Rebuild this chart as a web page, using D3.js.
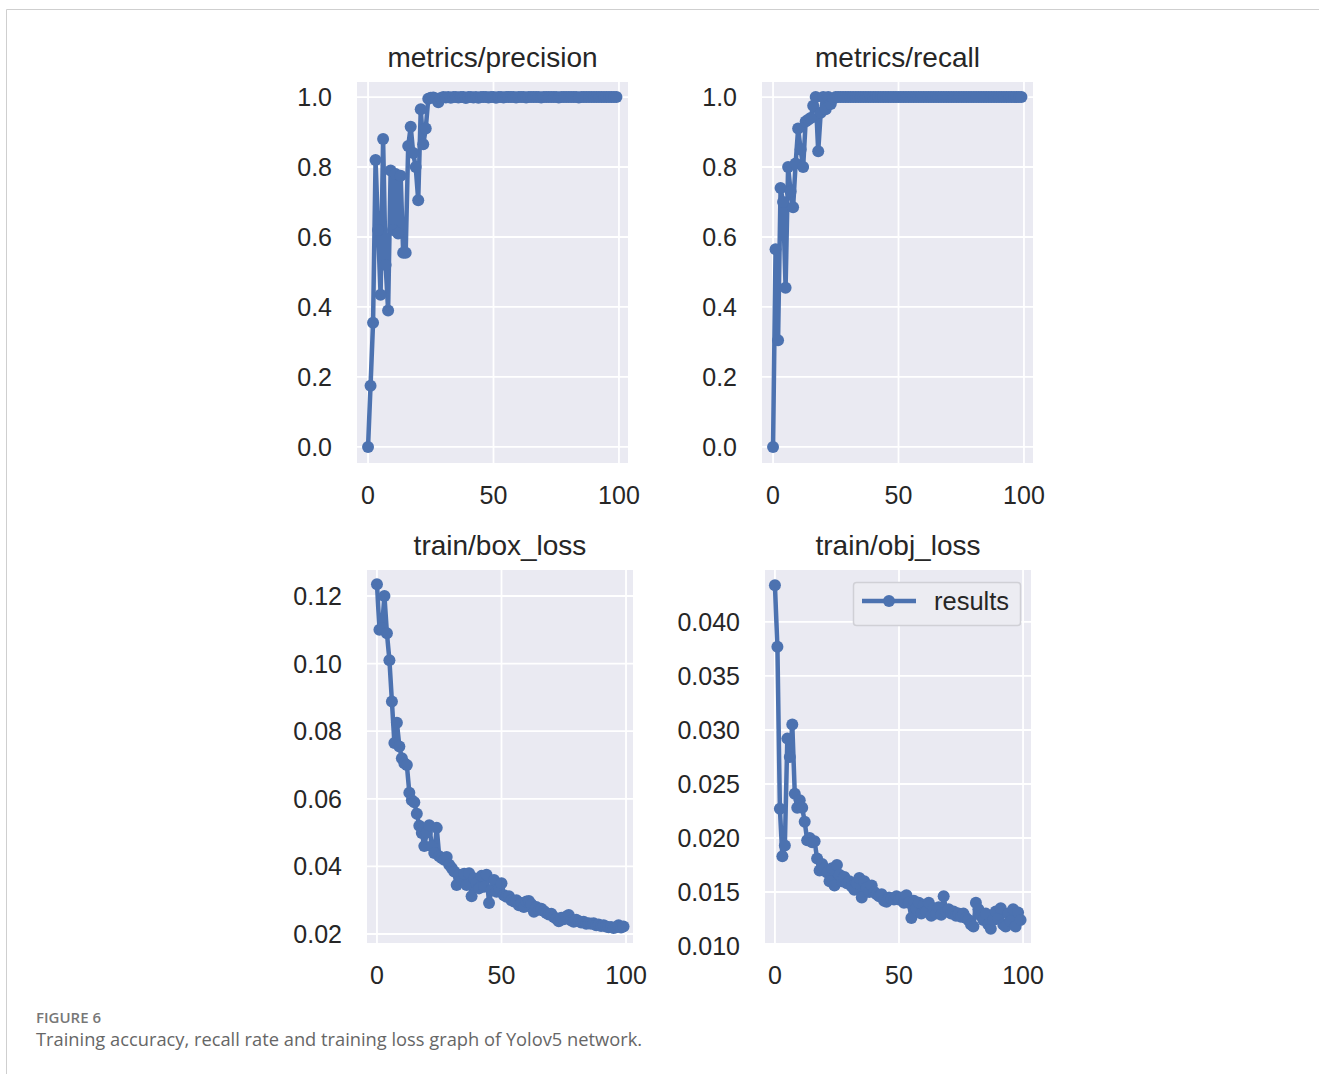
<!DOCTYPE html>
<html>
<head>
<meta charset="utf-8">
<script src="https://cdnjs.cloudflare.com/ajax/libs/d3/7.8.5/d3.min.js"></script>
<style>
  body { margin: 0; background: #fff; }
  svg { display: block; }
</style>
</head>
<body>
<script>
// Data, one value per epoch (0..99).
var precision = [0.0, 0.175, 0.355, 0.82, 0.62, 0.435, 0.88, 0.52, 0.39, 0.79,
  0.62, 0.78, 0.61, 0.775, 0.555, 0.555, 0.86, 0.915, 0.84, 0.80,
  0.705, 0.965, 0.865, 0.91, 0.995, 0.998, 0.999, 0.996, 0.985, 0.997,
  1.0, 0.999, 1.0, 0.998, 1.0, 1.0, 0.999, 1.0, 1.0, 0.997,
  1.0, 1.0, 0.999, 1.0, 0.998, 1.0, 1.0, 1.0, 0.999, 1.0,
  1.0, 0.998, 1.0, 1.0, 0.999, 1.0, 1.0, 1.0, 1.0, 0.999,
  1.0, 1.0, 1.0, 0.999, 1.0, 1.0, 1.0, 1.0, 1.0, 0.999,
  1.0, 1.0, 1.0, 1.0, 1.0, 1.0, 0.999, 1.0, 1.0, 1.0,
  1.0, 1.0, 1.0, 1.0, 0.999, 1.0, 1.0, 1.0, 1.0, 1.0,
  1.0, 1.0, 1.0, 1.0, 1.0, 1.0, 1.0, 1.0, 1.0, 1.0];

var recall = [0.0, 0.565, 0.305, 0.74, 0.70, 0.455, 0.80, 0.73, 0.685, 0.81,
  0.91, 0.85, 0.80, 0.93, 0.935, 0.94, 0.975, 1.0, 0.845, 0.955,
  1.0, 0.965, 1.0, 0.98, 0.995, 1.0, 1.0, 1.0, 1.0, 1.0,
  1.0, 1.0, 1.0, 1.0, 1.0, 1.0, 1.0, 1.0, 1.0, 1.0,
  1.0, 1.0, 1.0, 1.0, 1.0, 1.0, 1.0, 1.0, 1.0, 1.0,
  1.0, 1.0, 1.0, 1.0, 1.0, 1.0, 1.0, 1.0, 1.0, 1.0,
  1.0, 1.0, 1.0, 1.0, 1.0, 1.0, 1.0, 1.0, 1.0, 1.0,
  1.0, 1.0, 1.0, 1.0, 1.0, 1.0, 1.0, 1.0, 1.0, 1.0,
  1.0, 1.0, 1.0, 1.0, 1.0, 1.0, 1.0, 1.0, 1.0, 1.0,
  1.0, 1.0, 1.0, 1.0, 1.0, 1.0, 1.0, 1.0, 1.0, 1.0];

var boxLoss = [0.1235, 0.110, 0.1105, 0.120, 0.109, 0.101, 0.0888, 0.0765, 0.0825, 0.0755,
  0.0720, 0.0705, 0.0700, 0.0618, 0.0596, 0.0590, 0.0556, 0.0520, 0.0499, 0.0460,
  0.0500, 0.0522, 0.0460, 0.0440, 0.0514, 0.0430, 0.0425, 0.0420, 0.0428, 0.0405,
  0.0395, 0.0385, 0.0345, 0.0375, 0.0360, 0.0378, 0.0345, 0.0380, 0.0312, 0.0365,
  0.0350, 0.0335, 0.0372, 0.0340, 0.0375, 0.0292, 0.0330, 0.0360, 0.0325, 0.0335,
  0.0350, 0.0315, 0.0310, 0.0312, 0.0300, 0.0296, 0.0300, 0.0285, 0.0292, 0.0280,
  0.0296, 0.0298, 0.0288, 0.0266, 0.0280, 0.0272, 0.0275, 0.0268, 0.0262, 0.0258,
  0.0260, 0.0250, 0.0245, 0.0238, 0.0248, 0.0244, 0.0252, 0.0256, 0.0240, 0.0236,
  0.0242, 0.0238, 0.0234, 0.0236, 0.0230, 0.0232, 0.0230, 0.0232, 0.0226, 0.0228,
  0.0224, 0.0226, 0.0222, 0.0220, 0.0221, 0.0218, 0.0220, 0.0226, 0.0219, 0.0222];

var objLoss = [0.0434, 0.0377, 0.0227, 0.0183, 0.0193, 0.0292, 0.0275, 0.0305, 0.0241, 0.0228,
  0.0235, 0.0228, 0.0215, 0.0198, 0.0200, 0.0196, 0.0197, 0.0181, 0.0170, 0.0176,
  0.0172, 0.0168, 0.0160, 0.0172, 0.0156, 0.0175, 0.0166, 0.0160, 0.0164, 0.0158,
  0.0160, 0.0155, 0.0152, 0.0158, 0.0163, 0.0145, 0.0160, 0.0154, 0.0150, 0.0156,
  0.0150, 0.0148, 0.0146, 0.0148, 0.0142, 0.0141, 0.0145, 0.0144, 0.0143, 0.0146,
  0.0143, 0.0145, 0.0140, 0.0147, 0.0140, 0.0126, 0.0142, 0.0135, 0.0140, 0.0130,
  0.0138, 0.0132, 0.0140, 0.0128, 0.0135, 0.0130, 0.0136, 0.0129, 0.0146, 0.0132,
  0.0134, 0.0130, 0.0132, 0.0128, 0.0130, 0.0127, 0.0130, 0.0126, 0.0124, 0.0120,
  0.0118, 0.0140, 0.0134, 0.0128, 0.0124, 0.0130, 0.0120, 0.0116, 0.0124, 0.0132,
  0.0126, 0.0135, 0.0120, 0.0118, 0.0130, 0.0123, 0.0134, 0.0118, 0.0131, 0.0124];

// Tick labels.
var xTicks = [0, 50, 100];
var metricTicks = [0.0, 0.2, 0.4, 0.6, 0.8, 1.0];
var boxTicks = [0.02, 0.04, 0.06, 0.08, 0.10, 0.12];
var objTicks = [0.010, 0.015, 0.020, 0.025, 0.030, 0.035, 0.040];

var titles = ["metrics/precision", "metrics/recall", "train/box_loss", "train/obj_loss"];
var seriesName = "results";

var blue = "#4C72B0";
var font = "Liberation Sans, Arial, sans-serif";

// Panel boxes and axis ranges.
var panels = [
  {title: titles[0], values: precision, ticks: metricTicks, fmt: d3.format(".1f"),
   left: 357, right: 628, top: 82, bottom: 463, xd: [-4.4, 103.6], yd: [-0.046, 1.043]},
  {title: titles[1], values: recall, ticks: metricTicks, fmt: d3.format(".1f"),
   left: 762, right: 1033, top: 82, bottom: 463, xd: [-4.4, 103.6], yd: [-0.046, 1.043]},
  {title: titles[2], values: boxLoss, ticks: boxTicks, fmt: d3.format(".2f"),
   left: 367, right: 633, top: 570, bottom: 943, xd: [-4.0, 102.8], yd: [0.01734, 0.12769]},
  {title: titles[3], values: objLoss, ticks: objTicks, fmt: d3.format(".3f"),
   left: 765, right: 1031, top: 570, bottom: 943, xd: [-4.0, 103.2], yd: [0.01028, 0.04481], legend: true}
];

// Add svg element.
var svg = d3.select("body")
  .append("svg")
  .attr("width", 1319)
  .attr("height", 1074);

// Figure frame.
svg.append("path")
  .attr("d", "M6.5,1074 L6.5,9.5 L1319,9.5")
  .attr("fill", "none")
  .attr("stroke", "#cfcfcf")
  .attr("stroke-width", 1);

panels.forEach(function(p){
  var x = d3.scaleLinear().domain(p.xd).range([p.left, p.right]);
  var y = d3.scaleLinear().domain(p.yd).range([p.bottom, p.top]);
  var g = svg.append("g");

  // Background.
  g.append("rect")
    .attr("x", p.left).attr("y", p.top)
    .attr("width", p.right - p.left).attr("height", p.bottom - p.top)
    .attr("fill", "#EAEAF2");

  // Grid.
  g.selectAll(".gx").data(xTicks).enter()
    .append("line")
      .attr("x1", function(d){return x(d);})
      .attr("x2", function(d){return x(d);})
      .attr("y1", p.top).attr("y2", p.bottom)
      .attr("stroke", "#fff").attr("stroke-width", 1.8);
  g.selectAll(".gy").data(p.ticks.filter(function(d){return y(d) <= p.bottom;})).enter()
    .append("line")
      .attr("x1", p.left).attr("x2", p.right)
      .attr("y1", function(d){return y(d);})
      .attr("y2", function(d){return y(d);})
      .attr("stroke", "#fff").attr("stroke-width", 1.8);

  // Tick labels.
  g.selectAll(".tx").data(xTicks).enter()
    .append("text")
      .attr("x", function(d){return x(d);})
      .attr("y", p.bottom + 41)
      .attr("text-anchor", "middle")
      .attr("font-family", font)
      .attr("font-size", 25)
      .attr("fill", "#262626")
      .text(function(d){return d;});
  g.selectAll(".ty").data(p.ticks).enter()
    .append("text")
      .attr("x", p.left - 25)
      .attr("y", function(d){return y(d) + 9;})
      .attr("text-anchor", "end")
      .attr("font-family", font)
      .attr("font-size", 25)
      .attr("fill", "#262626")
      .text(function(d){return p.fmt(d);});

  // Title.
  g.append("text")
    .attr("x", (p.left + p.right) / 2)
    .attr("y", p.top - 15)
    .attr("text-anchor", "middle")
    .attr("font-family", font)
    .attr("font-size", 28)
    .attr("fill", "#262626")
    .text(p.title);

  // Line and points.
  var line = d3.line()
    .x(function(d, i){return x(i);})
    .y(function(d){return y(d);});
  g.append("path")
    .datum(p.values)
    .attr("d", line)
    .attr("fill", "none")
    .attr("stroke", blue)
    .attr("stroke-width", 4.5)
    .attr("stroke-linejoin", "round");
  g.selectAll("circle").data(p.values).enter()
    .append("circle")
      .attr("cx", function(d, i){return x(i);})
      .attr("cy", function(d){return y(d);})
      .attr("r", 6)
      .attr("fill", blue);

  // Legend.
  if(p.legend){
    var lg = g.append("g");
    lg.append("rect")
      .attr("x", 853.5).attr("y", 582.5)
      .attr("width", 167).attr("height", 43)
      .attr("rx", 3)
      .attr("fill", "#ECECF2")
      .attr("stroke", "#d0d0d6")
      .attr("stroke-width", 1.5);
    lg.append("line")
      .attr("x1", 862).attr("x2", 916)
      .attr("y1", 601).attr("y2", 601)
      .attr("stroke", blue).attr("stroke-width", 4.5);
    lg.append("circle")
      .attr("cx", 889).attr("cy", 601).attr("r", 6)
      .attr("fill", blue);
    lg.append("text")
      .attr("x", 934).attr("y", 610)
      .attr("font-family", font)
      .attr("font-size", 25.5)
      .attr("fill", "#262626")
      .text(seriesName);
  }
});

// Caption.
svg.append("text")
  .attr("x", 36).attr("y", 1023)
  .attr("font-family", "Open Sans, sans-serif")
  .attr("font-size", 15)
  .attr("font-weight", 600)
  .attr("fill", "#777")
  .text("FIGURE 6");
svg.append("text")
  .attr("x", 36).attr("y", 1046)
  .attr("font-family", "Open Sans, sans-serif")
  .attr("font-size", 18.3)
  .attr("fill", "#666")
  .text("Training accuracy, recall rate and training loss graph of Yolov5 network.");
</script>
</body>
</html>
